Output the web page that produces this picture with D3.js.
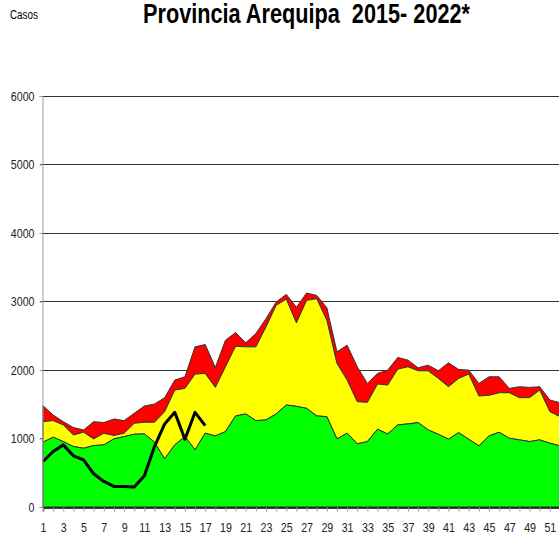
<!DOCTYPE html>
<html>
<head>
<meta charset="utf-8">
<script src="https://cdn.jsdelivr.net/npm/d3@7"></script>
<style>
  html, body { margin: 0; padding: 0; background: #fff; }
  svg { display: block; }
  text { font-family: "Liberation Sans Narrow", "Arial Narrow", "Liberation Sans", Arial, sans-serif; white-space: pre; }
</style>
</head>
<body>
<svg id="chart" width="559" height="541"></svg>
<script>
// Canal endémico - Provincia Arequipa
const weeks = d3.range(1, 53);

// upper bounds of each zone (cases), weeks 1-52
const exito = [946, 1019, 955, 883, 858, 897, 907, 994, 1028, 1062, 1067, 946, 703, 907, 1028, 834,
  1077, 1038, 1101, 1329, 1358, 1261, 1271, 1358, 1489, 1470, 1440, 1329, 1319, 994, 1077, 922,
  955, 1135, 1067, 1198, 1213, 1232, 1125, 1062, 989, 1086, 989, 892, 1038, 1091, 1004, 980,
  955, 980, 931, 892];
const seguridad = [1246, 1261, 1198, 1052, 1091, 994, 1077, 1043, 1077, 1222, 1237, 1237, 1392, 1707, 1731, 1940,
  1950, 1746, 2047, 2347, 2338, 2338, 2629, 2944, 3035, 2687, 3017, 3041, 2726, 2095, 1853, 1537,
  1528, 1795, 1780, 2013, 2047, 1988, 1988, 1877, 1756, 1877, 1940, 1620, 1630, 1668, 1668, 1596,
  1596, 1707, 1392, 1319];
const alarma = [1479, 1343, 1246, 1159, 1125, 1246, 1232, 1285, 1261, 1368, 1474, 1503, 1596, 1853, 1901, 2338,
  2372, 2037, 2435, 2546, 2396, 2532, 2750, 2992, 3104, 2915, 3123, 3089, 2910, 2265, 2362, 2047,
  1804, 1950, 1998, 2183, 2144, 2032, 2071, 1988, 2105, 2008, 1998, 1804, 1901, 1901, 1731, 1756,
  1746, 1756, 1562, 1523];
// casos 2022 (semanas 1-17)
const casos2022 = [664, 810, 907, 747, 689, 485, 373, 301, 301, 291, 456, 883, 1213, 1382, 989, 1382, 1188];

const yTicks = [0, 1000, 2000, 3000, 4000, 5000, 6000];
const xLabels = weeks.filter(w => w % 2 === 1);

const svg = d3.select('#chart');
const x = d3.scaleLinear().domain([1, 52]).range([43, 560]);
const y = d3.scaleLinear().domain([0, 6000]).range([507, 96]);

// squeeze text to look like a narrow font
function narrow(sel, f) {
  sel.each(function () {
    const w = this.getComputedTextLength();
    if (w > 0) {
      d3.select(this)
        .attr('textLength', w * f)
        .attr('lengthAdjust', 'spacingAndGlyphs');
    }
  });
}

// Title
svg.append('text')
  .attr('x', 143)
  .attr('y', 23)
  .attr('font-size', '27px')
  .attr('font-weight', 'bold')
  .attr('textLength', 327)
  .attr('lengthAdjust', 'spacingAndGlyphs')
  .text('Provincia Arequipa  2015- 2022*');

svg.append('text')
  .attr('x', 10)
  .attr('y', 19)
  .attr('font-size', '12px')
  .text('Casos')
  .call(narrow, 0.82);

// Gridlines
svg.append('g')
  .selectAll('line')
  .data(yTicks.filter(d => d > 0))
  .join('line')
  .attr('x1', 40)
  .attr('x2', 559)
  .attr('y1', d => y(d))
  .attr('y2', d => y(d))
  .attr('stroke', '#333')
  .attr('stroke-width', 1)
  .attr('shape-rendering', 'crispEdges');

// Stacked zones
const zones = [
  { lo: seguridad, hi: alarma, fill: '#ff0000' },
  { lo: exito, hi: seguridad, fill: '#ffff00' },
  { lo: null, hi: exito, fill: '#00ff00' }
];

zones.forEach(z => {
  const area = d3.area()
    .x((d, i) => x(weeks[i]))
    .y0((d, i) => z.lo ? y(z.lo[i]) : y(0))
    .y1((d, i) => y(z.hi[i]));
  svg.append('path')
    .datum(weeks)
    .attr('d', area)
    .attr('fill', z.fill)
    .attr('stroke', '#333')
    .attr('stroke-width', 1)
    .attr('stroke-linejoin', 'round');
});

// 2022 line
const line = d3.line()
  .x((d, i) => x(weeks[i]))
  .y(d => y(d));

svg.append('path')
  .datum(casos2022)
  .attr('d', line)
  .attr('fill', 'none')
  .attr('stroke', '#000')
  .attr('stroke-width', 3)
  .attr('stroke-linejoin', 'round');

// Y axis
const yAxis = svg.append('g')
  .attr('transform', 'translate(42.5,0)')
  .call(d3.axisLeft(y).tickValues(yTicks).tickSize(3).tickFormat(d3.format('d')));
yAxis.select('.domain').attr('stroke', '#999');
yAxis.selectAll('.tick line').attr('stroke', '#999');
yAxis.selectAll('.tick text')
  .attr('font-size', '13px')
  .attr('font-family', null)
  .attr('fill', '#222')
  .attr('x', -8)
  .call(narrow, 0.82);

// X axis
const xAxis = svg.append('g')
  .attr('transform', 'translate(0,507.5)')
  .call(d3.axisBottom(x).tickValues(weeks).tickSize(4)
    .tickFormat(d => (xLabels.includes(d) ? d : '')));
xAxis.select('.domain').attr('stroke', '#000').attr('stroke-width', 1.5);
xAxis.selectAll('.tick line').attr('stroke', '#999');
xAxis.selectAll('.tick text')
  .attr('font-size', '13px')
  .attr('font-family', null)
  .attr('fill', '#222')
  .attr('y', 15)
  .call(narrow, 0.82);
</script>
</body>
</html>
